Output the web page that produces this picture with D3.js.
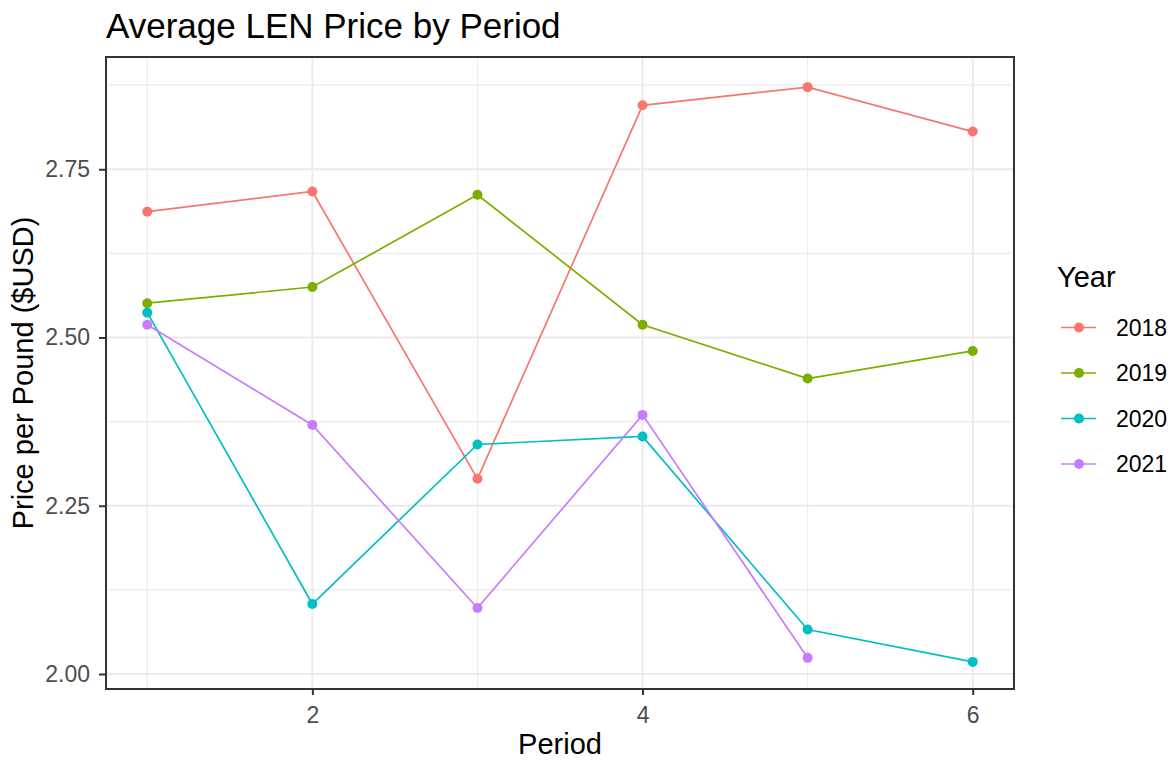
<!DOCTYPE html>
<html>
<head>
<meta charset="utf-8">
<script src="https://cdn.jsdelivr.net/npm/d3@7"></script>
<style>
  html, body { margin: 0; padding: 0; background: #fff; }
  svg text { font-family: "Liberation Sans", Arial, sans-serif; }
</style>
</head>
<body>
<svg id="chart" width="1175" height="761"></svg>
<script>
const periods = [1, 2, 3, 4, 5, 6];
const years = ["2018", "2019", "2020", "2021"];
const price2018 = [2.687, 2.717, 2.290, 2.845, 2.872, 2.806];
const price2019 = [2.551, 2.575, 2.712, 2.519, 2.439, 2.480];
const price2020 = [2.537, 2.104, 2.341, 2.353, 2.066, 2.018];
const price2021 = [2.519, 2.370, 2.098, 2.385, 2.024];
const colors = ["#F8766D", "#7CAE00", "#00BFC4", "#C77CFF"];
const xTicks = [2, 4, 6];
const xMinor = [1, 3, 5];
const yTicks = [2.00, 2.25, 2.50, 2.75];
const yMinor = [2.125, 2.375, 2.625, 2.875];

const seriesValues = [price2018, price2019, price2020, price2021];
const series = years.map((y, i) => ({
  year: y, color: colors[i],
  pts: seriesValues[i].map((v, j) => ({ p: periods[j], v }))
}));

const svg = d3.select("#chart");
const L = 106, R = 1014, T = 57, B = 689;

const x = d3.scaleLinear().domain([0.75, 6.25]).range([L, R]);
const y = d3.scaleLinear().domain([1.9777, 2.9168]).range([B, T]);

// grid
const grid = svg.append("g");
grid.selectAll(".ymin").data(yMinor).join("line")
  .attr("x1", L).attr("x2", R).attr("y1", d => y(d)).attr("y2", d => y(d))
  .attr("stroke", "#EBEBEB").attr("stroke-width", 1.1);
grid.selectAll(".xmin").data(xMinor).join("line")
  .attr("y1", T).attr("y2", B).attr("x1", d => x(d)).attr("x2", d => x(d))
  .attr("stroke", "#EBEBEB").attr("stroke-width", 1.1);
grid.selectAll(".ymaj").data(yTicks).join("line")
  .attr("x1", L).attr("x2", R).attr("y1", d => y(d)).attr("y2", d => y(d))
  .attr("stroke", "#EBEBEB").attr("stroke-width", 2);
grid.selectAll(".xmaj").data(xTicks).join("line")
  .attr("y1", T).attr("y2", B).attr("x1", d => x(d)).attr("x2", d => x(d))
  .attr("stroke", "#EBEBEB").attr("stroke-width", 2);

// lines and points
const line = d3.line().x(d => x(d.p)).y(d => y(d.v));
series.forEach(s => {
  svg.append("path").datum(s.pts)
    .attr("d", line).attr("fill", "none")
    .attr("stroke", s.color).attr("stroke-width", 1.7);
});
series.forEach(s => {
  svg.append("g").selectAll("circle").data(s.pts).join("circle")
    .attr("cx", d => x(d.p)).attr("cy", d => y(d.v)).attr("r", 5)
    .attr("fill", s.color);
});

// panel border
svg.append("rect").attr("x", L).attr("y", T).attr("width", R - L).attr("height", B - T)
  .attr("fill", "none").attr("stroke", "#333333").attr("stroke-width", 2);

// axes
const xAxis = svg.append("g").attr("transform", `translate(0,${B})`)
  .call(d3.axisBottom(x).tickValues(xTicks).tickFormat(d3.format("d")).tickSize(6).tickPadding(12));
const yAxis = svg.append("g").attr("transform", `translate(${L},0)`)
  .call(d3.axisLeft(y).tickValues(yTicks).tickFormat(d3.format(".2f")).tickSize(7).tickPadding(9));
[xAxis, yAxis].forEach(a => {
  a.select(".domain").remove();
  a.selectAll(".tick line").attr("stroke", "#333333").attr("stroke-width", 2);
  a.selectAll(".tick text").attr("fill", "#4D4D4D").style("font-size", "23px")
    .style("font-family", "'Liberation Sans', Arial, sans-serif");
});

// titles
svg.append("text").attr("x", L).attr("y", 38)
  .style("font-size", "35px").attr("fill", "#000").text("Average LEN Price by Period");
svg.append("text").attr("x", (L + R) / 2).attr("y", 754).attr("text-anchor", "middle")
  .style("font-size", "29px").attr("fill", "#000").text("Period");
svg.append("text").attr("transform", `translate(33,${(T + B) / 2}) rotate(-90)`)
  .attr("text-anchor", "middle").style("font-size", "29px").attr("fill", "#000")
  .text("Price per Pound ($USD)");

// legend
const lg = svg.append("g");
lg.append("text").attr("x", 1057).attr("y", 287).style("font-size", "29px").attr("fill", "#000").text("Year");
const keyY = [327.5, 373, 418.5, 464];
series.forEach((s, i) => {
  const g = lg.append("g").attr("transform", `translate(0,${keyY[i]})`);
  g.append("line").attr("x1", 1061).attr("x2", 1096).attr("y1", 0).attr("y2", 0)
    .attr("stroke", s.color).attr("stroke-width", 1.7);
  g.append("circle").attr("cx", 1079).attr("cy", 0).attr("r", 5).attr("fill", s.color);
  g.append("text").attr("x", 1116).attr("y", 8).style("font-size", "23px").attr("fill", "#000").text(s.year);
});
</script>
</body>
</html>
